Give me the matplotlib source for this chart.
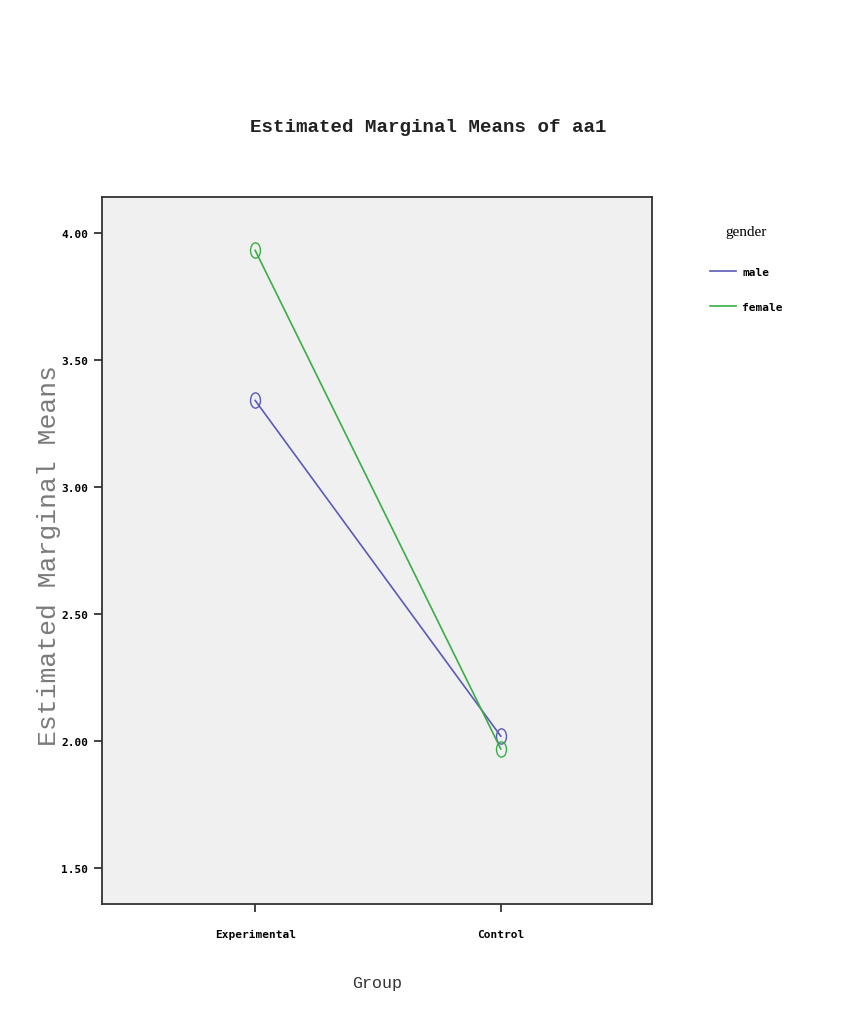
import numpy as np
import matplotlib
matplotlib.use('Agg')
import matplotlib.pyplot as plt
from matplotlib.lines import Line2D
from matplotlib.path import Path
from matplotlib.transforms import Affine2D

# 估计边际均值（aa1）
groups = ['Experimental', 'Control']
male_means = [3.34, 2.02]
female_means = [3.93, 1.97]
yticks = [1.5, 2.0, 2.5, 3.0, 3.5, 4.0]

male_color = '#5a5ab8'
female_color = '#3aae46'

# 竖长的椭圆形标记
oval = Path(Affine2D().scale(0.65, 1.0).transform(Path.unit_circle().vertices),
            Path.unit_circle().codes)

fig = plt.figure(figsize=(8.46, 10.12), dpi=100)
# 绘图区位置（像素换算为比例）
ax = fig.add_axes([102 / 846, 1 - 905 / 1012, 550 / 846, 707 / 1012])
ax.set_facecolor('#f0f0f0')

x = np.arange(len(groups))
ax.plot(x, male_means, color=male_color, lw=1.2, marker=oval, ms=11,
        mfc='none', mec=male_color, mew=1.0)
ax.plot(x, female_means, color=female_color, lw=1.2, marker=oval, ms=11,
        mfc='none', mec=female_color, mew=1.0)

ax.set_xlim(-0.624, 1.616)
ax.set_ylim(1.36, 4.14)
ax.set_xticks(x)
ax.set_xticklabels(groups, fontsize=8, fontweight='bold', family='DejaVu Sans Mono')
ax.set_yticks(yticks)
ax.set_yticklabels(['%.2f' % v for v in yticks], fontsize=8, fontweight='bold',
                   family='DejaVu Sans Mono')
ax.tick_params(direction='out', length=6, width=1.2, color='#222222', pad=4)
ax.tick_params(axis='x', pad=12)
for s in ax.spines.values():
    s.set_color('#333333')
    s.set_linewidth(1.3)

ax.set_xlabel('Group', fontsize=12, family='Liberation Mono', color='#333333')
ax.xaxis.set_label_coords(0.5, -0.100)
ax.set_ylabel('Estimated Marginal Means', fontsize=19, family='Liberation Mono',
              color='#7a7a7a')
ax.yaxis.set_label_coords(-0.074, 0.494)

fig.text(428 / 846, 1 - 128 / 1012, 'Estimated Marginal Means of aa1', ha='center',
         va='center', fontsize=13.8, family='Liberation Mono', fontweight='bold',
         color='#222222')

# 图例只显示线段
handles = [Line2D([], [], color=male_color, lw=1.2),
           Line2D([], [], color=female_color, lw=1.2)]
leg = ax.legend(handles, ['male', 'female'], loc='upper left',
                bbox_to_anchor=(700 / 846, 1 - 216 / 1012),
                bbox_transform=fig.transFigure, frameon=False, title='gender',
                handlelength=2.3, handletextpad=0.6, labelspacing=2.2,
                prop={'family': 'DejaVu Sans Mono', 'size': 8, 'weight': 'bold'})
leg.get_title().set_fontsize(11)
leg.get_title().set_family('Liberation Serif')
leg._legend_box.sep = 21

fig.savefig('out.png', dpi=100, facecolor='white')
